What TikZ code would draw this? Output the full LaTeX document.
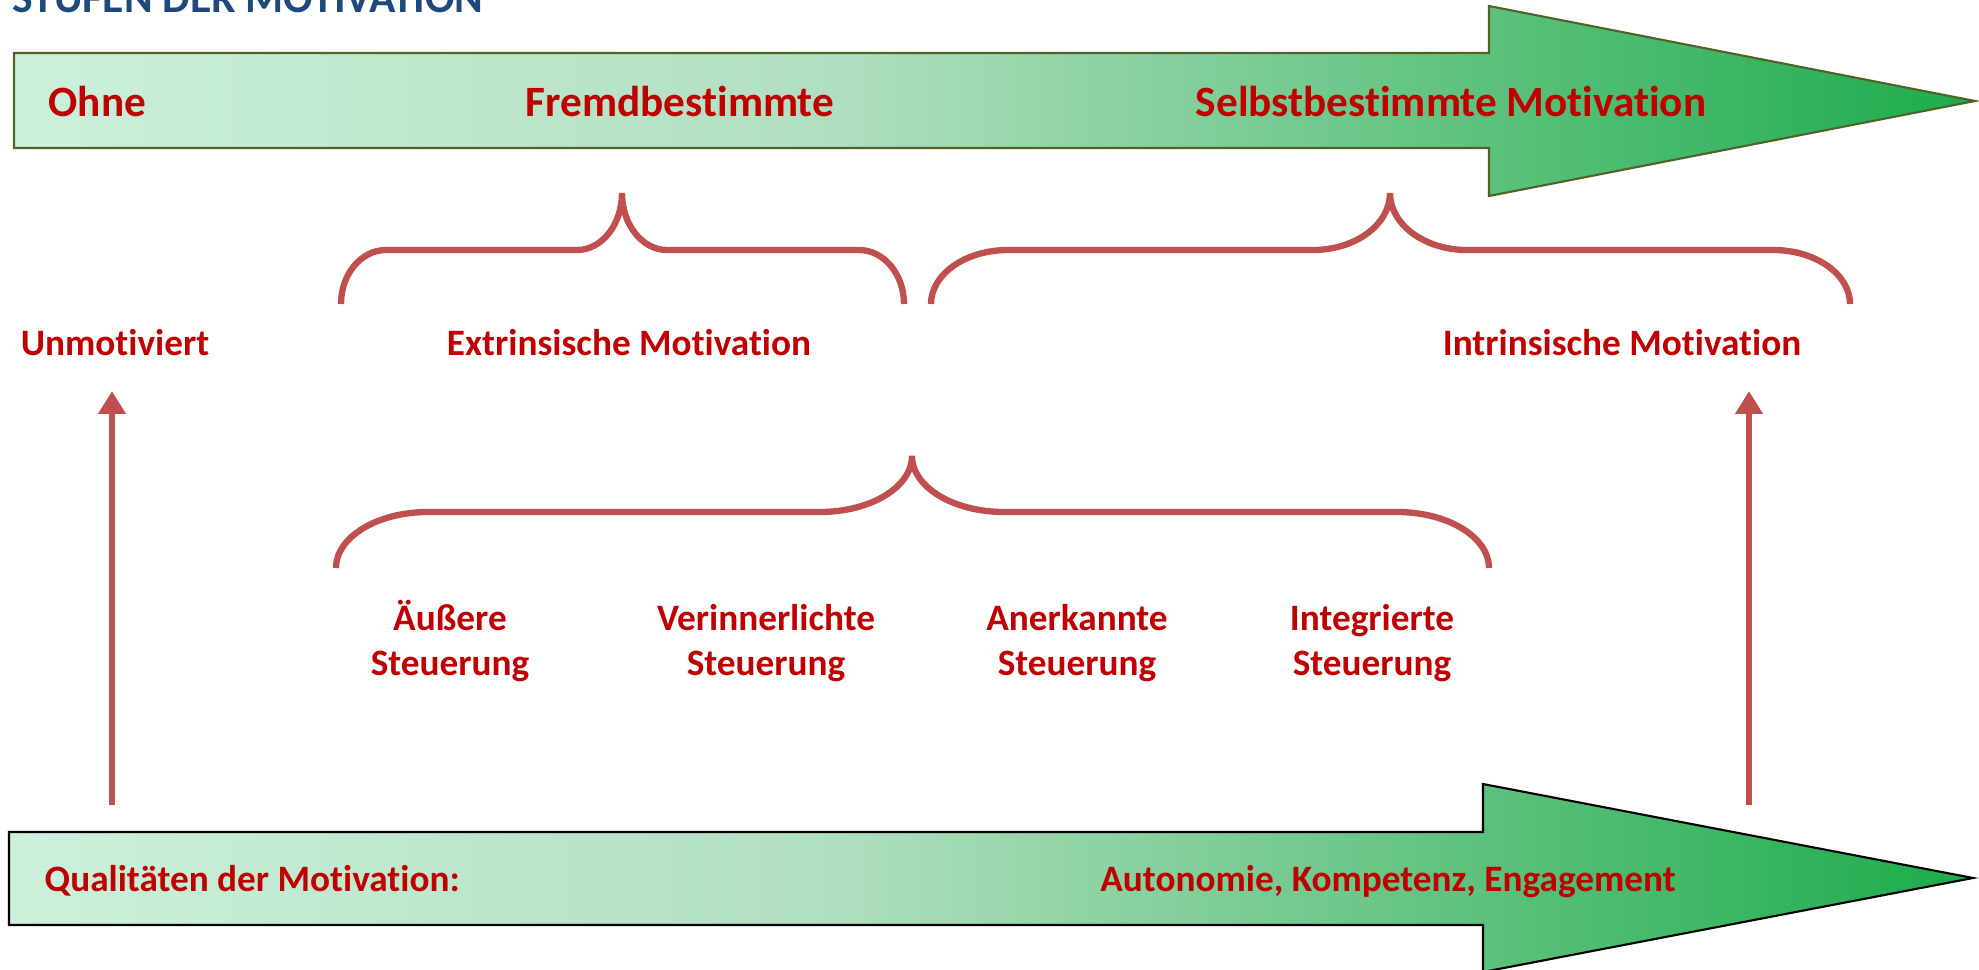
\documentclass[tikz,border=0pt]{standalone}
\usepackage{fontspec}
\setmainfont{Carlito}[Ligatures=NoCommon]
\usepackage{tikz}
\usetikzlibrary{arrows.meta,positioning,calc}

\definecolor{motred}{HTML}{C00000}
\definecolor{bracered}{HTML}{C0504D}
\definecolor{titleblue}{HTML}{1F497D}
\definecolor{mintA}{HTML}{CCF0DC}
\definecolor{mintB}{HTML}{B0DFBF}
\definecolor{greenC}{HTML}{1DAB4B}
\definecolor{arrowolive}{HTML}{4F6228}

% pale mint on the left, full green towards the tip
\pgfdeclarehorizontalshading{motgrad}{100bp}{color(0bp)=(mintA); color(25bp)=(mintA); color(46bp)=(mintB); color(75bp)=(greenC); color(100bp)=(greenC)}

\begin{document}
\begin{tikzpicture}[
    biglbl/.style={text=motred, font=\fontsize{12.3}{14}\selectfont\bfseries, inner sep=0pt},
    lbl/.style={text=motred, font=\fontsize{10.6}{12.6}\selectfont\bfseries, align=center, inner sep=0pt},
    bigarrow/.style={shading=motgrad, line width=0.6pt, line join=miter},
    brace/.style={draw=bracered, line width=1.8pt},
    uparrow/.style={draw=bracered, line width=1.8pt, -{Triangle[length=6.5pt,width=7.5pt]}}]

\useasboundingbox (0,0) rectangle (19.79,-9.70);

% Heading (cut at the top edge)
\node[anchor=base west, inner sep=0pt, text=titleblue, font=\fontsize{12.4}{14}\selectfont\bfseries] (title) at (0.12,-0.13) {STUFEN DER MOTIVATION};

% Upper arrow
\draw[bigarrow, draw=arrowolive] (0.14,-0.53) -- (14.89,-0.53) -- (14.89,-0.06) -- (19.75,-1.01) -- (14.89,-1.96) -- (14.89,-1.48) -- (0.14,-1.48) -- cycle;
\node[biglbl, anchor=base west] (ohne) at (0.48,-1.165) {Ohne};
\node[biglbl, anchor=base] (fremd) at (6.80,-1.165) {Fremdbestimmte};
\node[biglbl, anchor=base] (selbst) at (14.51,-1.165) {Selbstbestimmte Motivation};

% Braces under the upper arrow
\draw[brace] (3.41,-3.04) arc[start angle=180, end angle=90, x radius=0.45, y radius=0.54] -- (5.77,-2.50)
    arc[start angle=270, end angle=360, x radius=0.45, y radius=0.57]
    arc[start angle=180, end angle=270, x radius=0.45, y radius=0.57] -- (8.59,-2.50)
    arc[start angle=90, end angle=0, x radius=0.45, y radius=0.54];
\draw[brace] (9.31,-3.04) arc[start angle=180, end angle=90, x radius=0.77, y radius=0.54] -- (13.13,-2.50)
    arc[start angle=270, end angle=360, x radius=0.77, y radius=0.57]
    arc[start angle=180, end angle=270, x radius=0.77, y radius=0.57] -- (17.73,-2.50)
    arc[start angle=90, end angle=0, x radius=0.77, y radius=0.54];

% Motivation types
\node[lbl, anchor=base] (unmot) at (1.15,-3.55) {Unmotiviert};
\node[lbl, anchor=base] (extr) at (6.29,-3.55) {Extrinsische Motivation};
\node[lbl, anchor=base] (intr) at (16.22,-3.55) {Intrinsische Motivation};

% Brace over the regulation styles
\draw[brace] (3.36,-5.68) arc[start angle=180, end angle=90, x radius=0.92, y radius=0.56] -- (8.20,-5.12)
    arc[start angle=270, end angle=360, x radius=0.92, y radius=0.56]
    arc[start angle=180, end angle=270, x radius=0.92, y radius=0.56] -- (13.97,-5.12)
    arc[start angle=90, end angle=0, x radius=0.92, y radius=0.56];

\node[lbl, anchor=base] (aeuss) at (4.50,-6.75) {Äußere\\Steuerung};
\node[lbl, anchor=base] (verinn) at (7.66,-6.75) {Verinnerlichte\\Steuerung};
\node[lbl, anchor=base] (anerk) at (10.77,-6.75) {Anerkannte\\Steuerung};
\node[lbl, anchor=base] (integr) at (13.72,-6.75) {Integrierte\\Steuerung};

% Lower arrow
\draw[bigarrow, draw=black] (0.09,-8.32) -- (14.83,-8.32) -- (14.83,-7.84) -- (19.73,-8.78) -- (14.83,-9.72) -- (14.83,-9.25) -- (0.09,-9.25) -- cycle;
\node[lbl, anchor=base west] (qual) at (0.44,-8.915) {Qualitäten der Motivation:};
\node[lbl, anchor=base] (auto) at (13.88,-8.915) {Autonomie, Kompetenz, Engagement};

% Arrows up to both ends
\coordinate (unmot_foot) at (1.12,-8.05);
\coordinate (unmot_head) at (1.12,-3.91);
\coordinate (intr_foot) at (17.49,-8.05);
\coordinate (intr_head) at (17.49,-3.91);
\draw[uparrow] (unmot_foot) -- (unmot_head);
\draw[uparrow] (intr_foot) -- (intr_head);

\end{tikzpicture}
\end{document}
